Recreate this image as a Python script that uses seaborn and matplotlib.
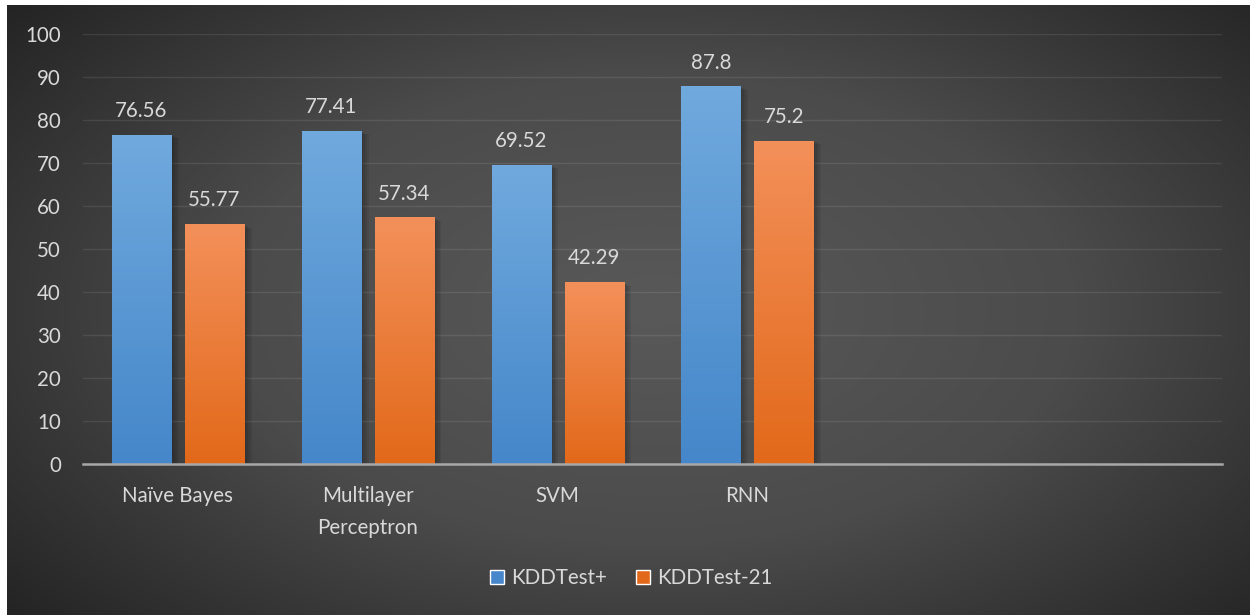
import matplotlib.pyplot as plt
import matplotlib.patches as mpatches
import matplotlib.transforms as mtransforms
from matplotlib.colors import LinearSegmentedColormap
import numpy as np
import pandas as pd
import seaborn as sns

# data
models = ['Naïve Bayes', 'Multilayer\nPerceptron', 'SVM', 'RNN']
kdd_plus = [76.56, 77.41, 69.52, 87.8]
kdd_21 = [55.77, 57.34, 42.29, 75.2]
series_names = ['KDDTest+', 'KDDTest-21']
yticks = [0, 10, 20, 30, 40, 50, 60, 70, 80, 90, 100]
n_slots = 6  # the chart keeps two empty category slots on the right

df = pd.DataFrame({
    'model': models * 2,
    'series': [series_names[0]] * len(models) + [series_names[1]] * len(models),
    'value': kdd_plus + kdd_21,
})
labels_txt = [str(v) for v in kdd_plus] + [str(v) for v in kdd_21]

blue_top, blue_bot = '#70a9dd', '#4587ca'
orange_top, orange_bot = '#f3905a', '#e2691a'
text_col = '#d9d9d9'

sns.set_style('white')
plt.rcParams['font.family'] = ['Lato', 'DejaVu Sans']

fig = plt.figure(figsize=(12.5, 6.15), dpi=100, facecolor='white')

# dark radial background like the Office style
bg = fig.add_axes([7 / 1250, 0, 1 - 7 / 1250, 1 - 5 / 615], zorder=-10)
yy, xx = np.mgrid[0:1:300j, 0:1:600j]
r = np.sqrt(((xx - 0.52) / 0.75) ** 2 + ((yy - 0.5) / 0.85) ** 2)
r = np.clip(r / r.max(), 0, 1)
bg_cmap = LinearSegmentedColormap.from_list('bg', ['#595959', '#4b4b4b', '#242424'])
bg.imshow(r, cmap=bg_cmap, aspect='auto', extent=[0, 1, 0, 1], vmin=0, vmax=1)
bg.set_axis_off()

ax = fig.add_axes([0.0664, 0.2455, 0.9112, 0.6992])
ax.set_facecolor('none')

sns.barplot(data=df, x='model', y='value', hue='series', order=models,
            palette=[blue_bot, orange_bot], width=0.768, gap=0.19,
            legend=False, ax=ax, zorder=3)

# gradient fill and soft shadow for each bar
bars = list(ax.patches)
for i, p in enumerate(bars):
    x0, w, h = p.get_x(), p.get_width(), p.get_height()
    top, bot = (blue_top, blue_bot) if i < len(models) else (orange_top, orange_bot)
    for k in range(1, 5):
        off = mtransforms.offset_copy(ax.transData, fig=fig, x=k * 1.4, y=-k * 0.6, units='points')
        sh = mpatches.Rectangle((x0, 0), w, h, transform=off, facecolor='black',
                                alpha=0.07, edgecolor='none', zorder=2)
        ax.add_patch(sh)
    cmap = LinearSegmentedColormap.from_list('g', [bot, top])
    grad = np.linspace(0, 1, 100).reshape(-1, 1)
    im = ax.imshow(grad, cmap=cmap, origin='lower', aspect='auto',
                   extent=[x0, x0 + w, 0, h], zorder=3.5)
    im.set_clip_path(p)
    p.set_edgecolor('none')

for cont, labs in zip(ax.containers, [labels_txt[:4], labels_txt[4:]]):
    ax.bar_label(cont, labels=labs, padding=10, color=text_col, fontsize=14.8)

ax.set_xlim(-0.5, n_slots - 0.5)
ax.set_ylim(0, 100)
ax.set_yticks(yticks)
ax.set_xlabel('')
ax.set_ylabel('')
ax.grid(axis='y', color='white', alpha=0.09, linewidth=1.0, zorder=0)
ax.grid(axis='x', visible=False)
ax.set_axisbelow(True)
for s in ['top', 'right', 'left']:
    ax.spines[s].set_visible(False)
ax.spines['bottom'].set_color('#a8a8a8')
ax.spines['bottom'].set_linewidth(1.8)
ax.spines['bottom'].set_zorder(5)
ax.tick_params(axis='both', length=0, colors=text_col, labelsize=14.8)
ax.tick_params(axis='y', pad=16)
ax.tick_params(axis='x', pad=16)
ax.set_xticks(range(len(models)))
ax.set_xticklabels(models, linespacing=1.75)

handles = [mpatches.Patch(facecolor=blue_bot, label=series_names[0]),
           mpatches.Patch(facecolor=orange_bot, label=series_names[1])]
fig.legend(handles=handles, loc='center', bbox_to_anchor=(0.505, 0.06), ncol=2,
           frameon=False, handlelength=0.7, handleheight=0.7, handletextpad=0.35,
           columnspacing=1.4, labelcolor=text_col, fontsize=14.8)

fig.savefig('out.png', dpi=100, facecolor=fig.get_facecolor())
